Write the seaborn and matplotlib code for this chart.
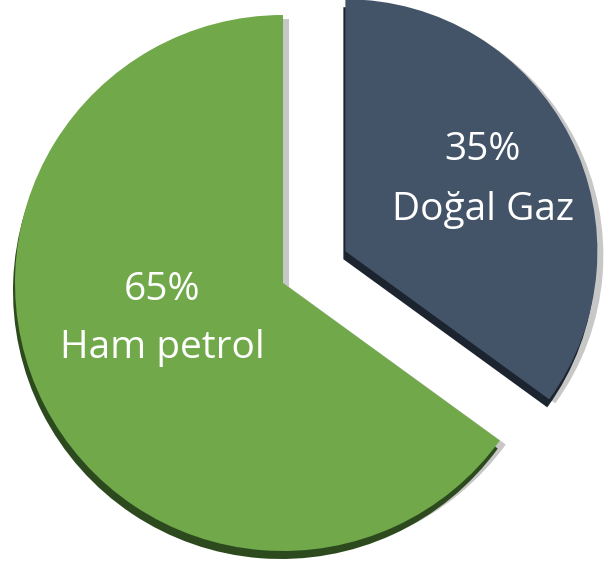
import matplotlib
matplotlib.use("Agg")
import matplotlib.pyplot as plt
import seaborn as sns

# Data
labels = ["Doğal Gaz", "Ham petrol"]
shares = [35, 65]
colors = ["#435368", "#70a84a"]
side_colors = ["#1c2430", "#2c4a1e"]

sns.set_style("white")
plt.rcParams["font.family"] = ["Open Sans", "DejaVu Sans"]

W, H = 604, 566
fig = plt.figure(figsize=(W / 100, H / 100), dpi=100)
ax = fig.add_axes([0, 0, 1, 1])

center = (283, H - 283)
radius = 268
# explode is in data units (pixels here)
explode = [70, 0]
common = dict(startangle=90, counterclock=False, explode=explode, radius=radius)


def draw(col, dx=0, dy=0, z=1, alpha=1.0):
    wedges, _ = ax.pie(shares, colors=col, center=(center[0] + dx, center[1] + dy),
                       wedgeprops=dict(linewidth=0, alpha=alpha), **common)
    wedges[0].set_radius(252)
    for w in wedges:
        w.set_zorder(z)
    return wedges


# soft drop shadow, then the dark side (3D thickness), then the top face
draw(["#000000", "#000000"], dx=6, dy=-4, z=1, alpha=0.22)
draw(side_colors, dx=-2, dy=-8, z=2)
draw(colors, z=3)

# labels
ax.text(483, H - 150, "35%", color="white", fontsize=28, ha="center", va="center", zorder=5)
ax.text(483, H - 210, labels[0], color="white", fontsize=28, ha="center", va="center", zorder=5)
ax.text(162, H - 290, "65%", color="white", fontsize=28, ha="center", va="center", zorder=5)
ax.text(162, H - 348, labels[1], color="white", fontsize=28, ha="center", va="center", zorder=5)

ax.set_xlim(0, W)
ax.set_ylim(0, H)
ax.set_aspect("auto")
ax.axis("off")

fig.savefig("out.png", dpi=100, facecolor="white")
